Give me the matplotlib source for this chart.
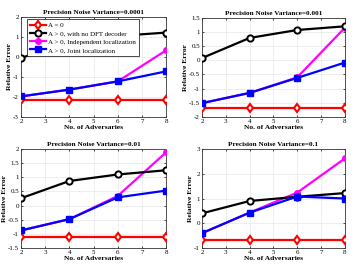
import matplotlib
import matplotlib.pyplot as plt

matplotlib.use('Agg')

# Data
adversaries = [2, 4, 6, 8]
variances = ['0.0001', '0.001', '0.01', '0.1']

a_zero = [
    [-2.13, -2.13, -2.13, -2.13],
    [-1.68, -1.68, -1.68, -1.68],
    [-1.12, -1.12, -1.12, -1.12],
    [-0.66, -0.66, -0.66, -0.66],
]
no_dft = [
    [-0.05, 0.75, 1.05, 1.22],
    [0.08, 0.79, 1.07, 1.20],
    [0.26, 0.87, 1.10, 1.25],
    [0.40, 0.90, 1.07, 1.22],
]
independent = [
    [-1.97, -1.63, -1.22, 0.33],
    [-1.51, -1.15, -0.60, 1.15],
    [-0.88, -0.48, 0.34, 1.88],
    [-0.40, 0.43, 1.24, 2.62],
]
joint = [
    [-1.97, -1.63, -1.22, -0.72],
    [-1.51, -1.15, -0.62, -0.08],
    [-0.88, -0.48, 0.29, 0.53],
    [-0.40, 0.43, 1.08, 1.00],
]
y_limits = [(-3, 2), (-2, 1.5), (-1.5, 2), (-1, 3)]
y_steps = [1, 0.5, 0.5, 1]

labels = ['A = 0', 'A > 0, with no DFT decoder',
          'A > 0, Independent localization', 'A > 0, Joint localization']

plt.rcParams.update({
    'font.family': ['Liberation Serif', 'DejaVu Serif'],
    'font.size': 5.5,
    'axes.linewidth': 0.6,
    'xtick.labelsize': 5,
    'ytick.labelsize': 5,
    'xtick.major.width': 0.5,
    'ytick.major.width': 0.5,
})

fig = plt.figure(figsize=(3.57, 2.74), dpi=100)

# axes boxes in figure fractions (left, bottom, width, height)
boxes = [
    (0.059, 0.573, 0.406, 0.365),
    (0.566, 0.573, 0.400, 0.362),
    (0.059, 0.095, 0.406, 0.361),
    (0.566, 0.095, 0.400, 0.361),
]

LW = 1.6

for i, box in enumerate(boxes):
    ax = fig.add_axes(box)
    ax.plot(adversaries, independent[i], color='magenta', marker='o',
            markersize=4, linewidth=LW, label=labels[2], zorder=3)
    ax.plot(adversaries, joint[i], color='blue', marker='s',
            markersize=4, linewidth=LW, label=labels[3], zorder=4)
    ax.plot(adversaries, no_dft[i], color='black', marker='o',
            markerfacecolor='white', markeredgewidth=1.4,
            markersize=4.5, linewidth=LW, label=labels[1], zorder=3)
    ax.plot(adversaries, a_zero[i], color='red', marker='d',
            markerfacecolor='white', markeredgewidth=1.5,
            markersize=4.5, linewidth=LW, label=labels[0], zorder=3)

    lo, hi = y_limits[i]
    ax.set_xlim(2, 8)
    ax.set_ylim(lo, hi)
    ax.set_xticks(range(2, 9))
    step = y_steps[i]
    ticks = []
    t = lo
    while t <= hi + 1e-9:
        ticks.append(round(t, 2))
        t += step
    ax.set_yticks(ticks)
    ax.set_yticklabels([('%g' % v) for v in ticks])
    ax.tick_params(direction='in', pad=1.5, top=True, right=True,
                   length=1.5)
    ax.grid(True, color='#e6e6e6', linewidth=0.5)
    ax.set_axisbelow(True)
    for s in ax.spines.values():
        s.set_color('#333333')

    ax.set_title('Precision Noise Variance=' + variances[i],
                 fontsize=5.2, fontweight='bold', pad=2)
    ax.set_xlabel('No. of Adversaries', fontsize=5.4, fontweight='bold',
                  labelpad=0.5)
    ax.set_ylabel('Relative Error', fontsize=5.4, fontweight='bold',
                  labelpad=1)

    if i == 0:
        handles, labs = ax.get_legend_handles_labels()
        order = [3, 2, 0, 1]
        leg = ax.legend([handles[k] for k in order],
                        [labs[k] for k in order],
                        loc='upper left', bbox_to_anchor=(0.03, 0.99),
                        fontsize=5, frameon=True, fancybox=False,
                        edgecolor='black', framealpha=1, borderpad=0.4,
                        labelspacing=0.35, handlelength=2.4,
                        handletextpad=0.3, borderaxespad=0.2)
        leg.get_frame().set_linewidth(0.5)

fig.savefig('out.png', dpi=100)
